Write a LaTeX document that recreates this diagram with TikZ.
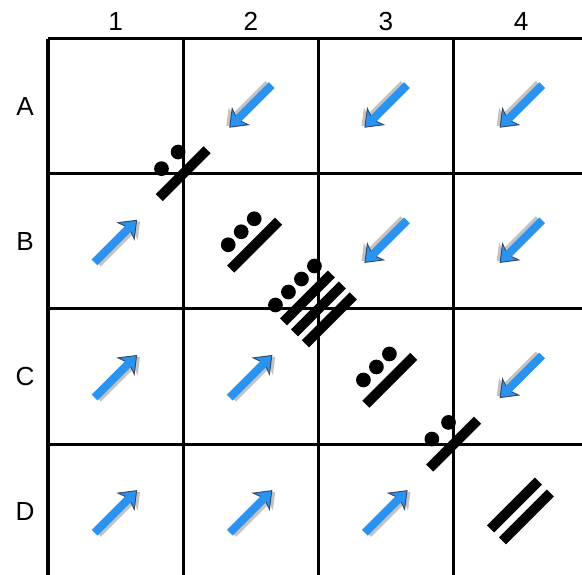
\documentclass[tikz,border=0pt]{standalone}
\usepackage{fontspec}
\setmainfont{Liberation Sans}

\definecolor{arrowblue}{RGB}{42,146,240}
\definecolor{arrowedge}{RGB}{55,75,105}
\definecolor{arrowshade}{RGB}{195,195,195}

\tikzset{
  gridline/.style={line width=1.3pt},
  glyphbar/.style={line width=4.2pt},
  glyphdot/.style={fill=black},
  headlabel/.style={font=\fontsize{11}{13}\selectfont},
}

% blue arrow centred at #1, pointing at angle #2
\newcommand{\cellarrow}[2]{%
  \begin{scope}[shift={#1}, rotate=#2]
    \fill[arrowshade, shift={(0.012,-0.024)}] (-0.22,-0.03) -- (0.13,-0.03) -- (0.11,-0.085) -- (0.22,0) -- (0.11,0.085) -- (0.13,0.03) -- (-0.22,0.03) -- cycle;
    \fill[arrowblue] (-0.22,-0.03) -- (0.13,-0.03) -- (0.11,-0.085) -- (0.22,0) -- (0.11,0.085) -- (0.13,0.03) -- (-0.22,0.03) -- cycle;
    \draw[arrowedge, line width=0.4pt] (0.13,-0.03) -- (0.11,-0.085) -- (0.22,0) -- (0.11,0.085) -- (0.13,0.03);
  \end{scope}}

% dots #2 at height #3 above the bars #4, turned by 45 degrees round #1
\newcommand{\dotbar}[4]{%
  \begin{scope}[shift={#1}, rotate=45]
    \foreach \d in {#2} \fill[glyphdot] (\d,#3) circle (3.1pt);
    \foreach \b in {#4} \draw[glyphbar] (-0.25,\b) -- (0.25,\b);
  \end{scope}}

\begin{document}
\begin{tikzpicture}[x=2cm, y=2cm]
    \useasboundingbox (-0.355,0.032) rectangle (3.950,4.285);

    % the 4x4 board
    \draw[gridline, step=2cm] (0,0) grid (4,4);

    % column and row labels
    \foreach \i in {1,...,4}
        \node[headlabel] (col\i) at (\i-0.5,4.125) {\i};
    \foreach \l [count=\k] in {A,B,C,D}
        \node[headlabel] (row\l) at (-0.17,4.5-\k) {\l};

    % arrows above and below the diagonal
    \foreach \x/\y in {1.5/3.5, 2.5/3.5, 3.5/3.5, 2.5/2.5, 3.5/2.5, 3.5/1.5}
        \cellarrow{(\x,\y)}{225};
    \foreach \x/\y in {0.5/2.5, 0.5/1.5, 1.5/1.5, 0.5/0.5, 1.5/0.5, 2.5/0.5}
        \cellarrow{(\x,\y)}{45};

    % numerals along the diagonal
    \dotbar{(1,3)}{-0.087,0.087}{0.14}{0};
    \dotbar{(1.5,2.5)}{-0.136,0,0.136}{0.10}{-0.04};
    \dotbar{(2,2)}{-0.204,-0.068,0.068,0.204}{0.245}{0.115,0,-0.115};
    \dotbar{(2.5,1.5)}{-0.136,0,0.136}{0.10}{-0.04};
    \dotbar{(3,1)}{-0.087,0.087}{0.14}{0};
    \begin{scope}[shift={(3.5,0.5)}, rotate=45]
        \draw[glyphbar] (-0.25,0.07) -- (0.25,0.07);
        \draw[glyphbar] (-0.25,-0.055) -- (0.25,-0.055);
    \end{scope}
\end{tikzpicture}
\end{document}
